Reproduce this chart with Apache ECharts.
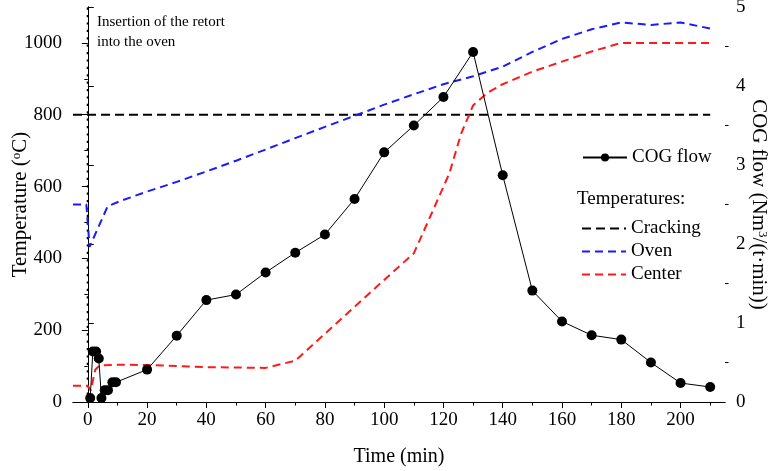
<!DOCTYPE html>
<html>
<head>
<meta charset="utf-8">
<script src="https://cdn.jsdelivr.net/npm/echarts@6/dist/echarts.min.js"></script>
<style>html,body{margin:0;padding:0;background:#fff}#c{width:773px;height:471px}</style>
</head>
<body>
<div id="c"></div>
<script>
// ---- data ----
const cogTime = [0.8, 1.7, 2.8, 3.7, 4.6, 5.7, 6.8, 8.3, 9.5, 20, 30, 40, 50, 60, 70, 80, 90, 100, 110, 120, 130, 140, 150, 160, 170, 180, 190, 200, 210];
const cogFlow = [0.05, 0.64, 0.64, 0.55, 0.05, 0.15, 0.15, 0.25, 0.25, 0.41, 0.84, 1.29, 1.36, 1.64, 1.89, 2.12, 2.57, 3.16, 3.5, 3.86, 4.43, 2.87, 1.41, 1.02, 0.845, 0.79, 0.5, 0.24, 0.19];

const ovenTime = [-5, -0.5, 0.6, 6.7, 10.7, 20, 30, 40, 50, 60, 70, 80, 90, 100, 110, 120, 130, 140, 150, 160, 170, 180, 190, 200, 210];
const ovenTemp = [550, 550, 432, 545, 559, 586, 613, 642, 672, 703, 735, 766, 797, 828, 857, 885, 907, 934, 975, 1011, 1038, 1057, 1050, 1057, 1040];

const centerTime = [-5, 0, 1, 2.5, 4, 10, 20, 30, 40, 50, 60, 70, 80, 90, 100, 110, 116, 122, 126, 130, 135, 140, 150, 160, 170, 180, 190, 200, 210];
const centerTemp = [45, 45, 32, 90, 102, 104, 103, 100, 97, 96, 95, 115, 190, 265, 340, 414, 525, 637, 748, 826, 862, 885, 920, 948, 976, 1000, 1000, 1000, 1000];

const crackTime = [-5, 210];
const crackTemp = [800, 800];

const insertTime = [0, 0];
const insertTemp = [0, 1100];

const xLabels = [0, 20, 40, 60, 80, 100, 120, 140, 160, 180, 200];
const xMinor = [10, 30, 50, 70, 90, 110, 130, 150, 170, 190, 210];
const yLeftLabels = [0, 200, 400, 600, 800, 1000];
const yLeftMinor = [100, 300, 500, 700, 900];
const yRightLabels = [0, 1, 2, 3, 4, 5];
const yRightMinor = [0.5, 1.5, 2.5, 3.5, 4.5];

const pairs = (xs, ys) => xs.map((x, i) => [x, ys[i]]);

const FONT = 'Liberation Serif';
const black = '#000';
const plain = v => String(v);

const chart = echarts.init(document.getElementById('c'), null, {renderer: 'canvas'});

const baseAxisLine = {show: true, lineStyle: {color: black, width: 1}};

chart.setOption({
  animation: false,
  backgroundColor: '#fff',
  textStyle: {fontFamily: FONT, color: black},
  grid: {left: 73, right: 48, top: 7, bottom: 69, containLabel: false, outerBoundsMode: 'none'},
  xAxis: [
    {
      type: 'value', min: -5, max: 215, position: 'bottom',
      axisLine: baseAxisLine,
      axisTick: {show: true, customValues: xLabels, length: 6, inside: false, lineStyle: {color: black}},
      axisLabel: {customValues: xLabels, formatter: plain, fontFamily: FONT, fontSize: 19, color: black, margin: 9},
      splitLine: {show: false},
      name: 'Time (min)', nameLocation: 'middle', nameGap: 45, nameMoveOverlap: false,
      nameTextStyle: {fontFamily: FONT, fontSize: 20, color: black}
    },
    {
      type: 'value', min: -5, max: 215, position: 'bottom',
      axisLine: {show: false},
      axisTick: {show: true, customValues: xMinor, length: 3.5, lineStyle: {color: black}},
      axisLabel: {show: false},
      splitLine: {show: false}
    },
    {
      type: 'value', min: -5, max: 215, position: 'top',
      axisLine: baseAxisLine,
      axisTick: {show: false}, axisLabel: {show: false}, splitLine: {show: false}
    }
  ],
  yAxis: [
    {
      type: 'value', min: 0, max: 1100, position: 'left',
      axisLine: baseAxisLine,
      axisTick: {show: true, customValues: yLeftLabels, length: 6, lineStyle: {color: black}},
      axisLabel: {customValues: yLeftLabels, formatter: plain, fontFamily: FONT, fontSize: 19, color: black, margin: 11},
      splitLine: {show: false},
      name: 'Temperature ({sup|o}C)', nameLocation: 'middle', nameGap: 42, nameRotate: 90, nameMoveOverlap: false,
      nameTextStyle: {fontFamily: FONT, fontSize: 21, color: black,
        rich: {sup: {fontFamily: FONT, fontSize: 13, color: black, verticalAlign: 'top', padding: [0, 0, 8, 0]}}}
    },
    {
      type: 'value', min: 0, max: 1100, position: 'left',
      axisLine: {show: false},
      axisTick: {show: true, customValues: yLeftMinor, length: 3.5, lineStyle: {color: black}},
      axisLabel: {show: false}, splitLine: {show: false}
    },
    {
      type: 'value', min: 0, max: 5, position: 'right',
      axisLine: baseAxisLine,
      axisTick: {show: true, customValues: yRightLabels, length: 6, lineStyle: {color: black}},
      axisLabel: {customValues: yRightLabels, formatter: plain, fontFamily: FONT, fontSize: 19, color: black, margin: 11},
      splitLine: {show: false},
      name: 'COG flow (Nm{sup|3}/(t·min))', nameLocation: 'middle', nameGap: 23, nameRotate: -90, nameMoveOverlap: false,
      nameTextStyle: {fontFamily: FONT, fontSize: 21, color: black,
        rich: {sup: {fontFamily: FONT, fontSize: 13, color: black, verticalAlign: 'top', padding: [0, 0, 8, 0]}}}
    },
    {
      type: 'value', min: 0, max: 5, position: 'right',
      axisLine: {show: false},
      axisTick: {show: true, customValues: yRightMinor, length: 3.5, lineStyle: {color: black}},
      axisLabel: {show: false}, splitLine: {show: false}
    }
  ],
  legend: [
    {
      data: ['COG flow'], left: 577, top: 143, itemWidth: 44, itemHeight: 10, itemGap: 6,
      textStyle: {fontFamily: FONT, fontSize: 19, color: black}
    },
    {
      data: ['Cracking', 'Oven', 'Center'], orient: 'vertical', left: 576, top: 214,
      itemWidth: 44, itemHeight: 10, itemGap: 4,
      itemStyle: {opacity: 0},
      textStyle: {fontFamily: FONT, fontSize: 19, color: black}
    }
  ],
  graphic: [
    {type: 'text', left: 577, top: 190, style: {text: 'Temperatures:', font: '19px "Liberation Serif"', fill: black}},
    {type: 'text', left: 97, top: 12, style: {text: 'Insertion of the retort\ninto the oven', font: '15px "Liberation Serif"', lineHeight: 20, fill: black}}
  ],
  series: [
    {
      name: 'Insertion', type: 'line', xAxisIndex: 0, yAxisIndex: 0,
      data: pairs(insertTime, insertTemp), symbol: 'none', silent: true, z: 3,
      lineStyle: {color: black, width: 2.2, type: [2.2, 5.2], cap: 'butt'}
    },
    {
      name: 'Cracking', type: 'line', xAxisIndex: 0, yAxisIndex: 0,
      data: pairs(crackTime, crackTemp), symbol: 'none',
      lineStyle: {color: black, width: 2, type: [9, 5]}, itemStyle: {color: black}
    },
    {
      name: 'Oven', type: 'line', xAxisIndex: 0, yAxisIndex: 0,
      data: pairs(ovenTime, ovenTemp), symbol: 'none',
      lineStyle: {color: '#1a1aff', width: 2, type: [8, 5]}, itemStyle: {color: '#1a1aff'}
    },
    {
      name: 'Center', type: 'line', xAxisIndex: 0, yAxisIndex: 0,
      data: pairs(centerTime, centerTemp), symbol: 'none',
      lineStyle: {color: '#ff1a1a', width: 2, type: [8, 5]}, itemStyle: {color: '#ff1a1a'}
    },
    {
      name: 'COG flow', type: 'line', xAxisIndex: 0, yAxisIndex: 2,
      data: pairs(cogTime, cogFlow), symbol: 'circle', symbolSize: 10, showAllSymbol: true,
      lineStyle: {color: black, width: 1}, itemStyle: {color: black}
    }
  ]
});
</script>
</body>
</html>
